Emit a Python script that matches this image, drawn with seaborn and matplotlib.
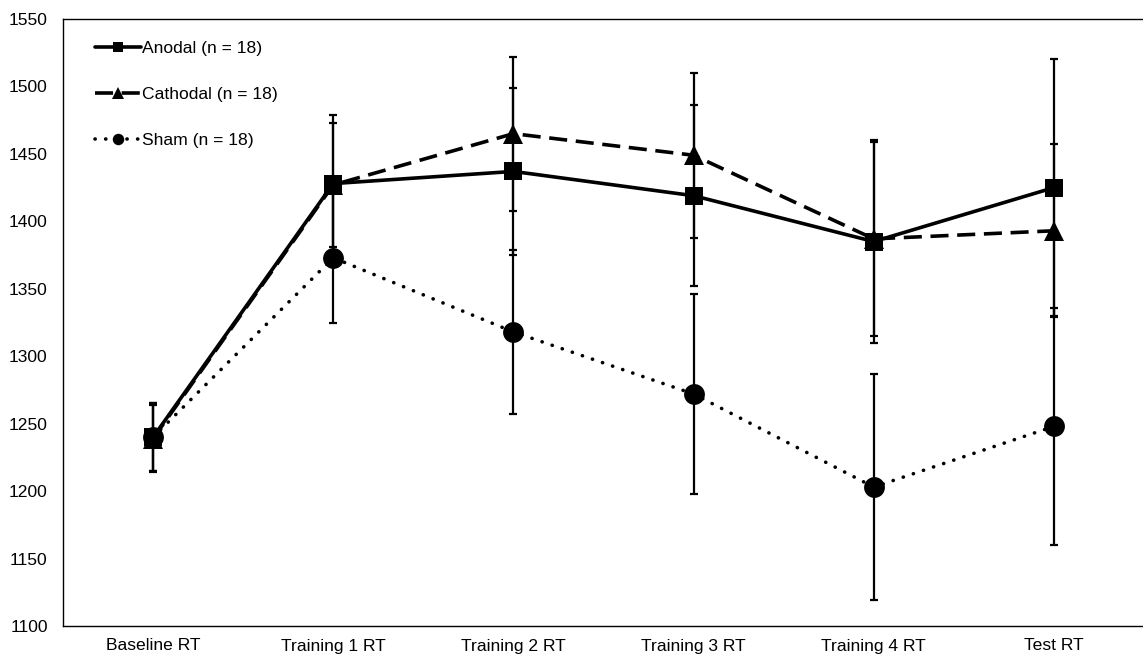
import numpy as np
import pandas as pd
import matplotlib
matplotlib.use("Agg")
import matplotlib.pyplot as plt
import seaborn as sns

sessions = ["Baseline RT", "Training 1 RT", "Training 2 RT", "Training 3 RT", "Training 4 RT", "Test RT"]
groups = ["Anodal (n = 18)", "Cathodal (n = 18)", "Sham (n = 18)"]
anodal = [1240, 1428, 1437, 1419, 1385, 1425]
anodal_se = [25, 51, 62, 67, 75, 95]
cathodal = [1239, 1427, 1465, 1449, 1387, 1393]
cathodal_se = [25, 46, 57, 61, 72, 64]
sham = [1240, 1373, 1318, 1272, 1203, 1248]
sham_se = [25, 48, 61, 74, 84, 88]
y_ticks = list(range(1100, 1551, 50))

sns.set_theme(style="white")
plt.rcParams["font.family"] = ["Liberation Sans", "DejaVu Sans"]
plt.rcParams["text.color"] = "black"

rows = []
for g, vals, ses in zip(groups, [anodal, cathodal, sham], [anodal_se, cathodal_se, sham_se]):
    for i, (s, v, e) in enumerate(zip(sessions, vals, ses)):
        rows.append({"pos": i, "Session": s, "RT": v, "SE": e, "Group": g})
df = pd.DataFrame(rows)

fig = plt.figure(figsize=(11.43, 6.61), dpi=100)
ax = fig.add_axes([63 / 1143, 1 - 626 / 661, (1144 - 63) / 1143, (626 - 19) / 661])

markers = {groups[0]: "s", groups[1]: "^", groups[2]: "o"}
dashes = {groups[0]: "", groups[1]: (5, 2.4), groups[2]: (0.05, 2.9)}
sns.lineplot(data=df, x="pos", y="RT", style="Group", markers=markers, dashes=dashes,
             color="black", linewidth=2.6, markeredgewidth=0, legend=False, ax=ax,
             errorbar=None)

sizes = {groups[0]: 13.5, groups[1]: 15, groups[2]: 15}
for line, g in zip(ax.lines[:3], groups):
    line.set_markersize(sizes[g])
    line.set_dash_capstyle("round" if g == groups[2] else "butt")
    line.set_label(g)

for g in groups:
    sub = df[df["Group"] == g]
    ax.errorbar(sub["pos"], sub["RT"], yerr=sub["SE"], fmt="none", ecolor="black",
                elinewidth=1.6, capsize=3.2, capthick=1.6, zorder=3)

handles = ax.lines[:3]
leg = ax.legend(handles, groups, loc="upper left", bbox_to_anchor=(0.02, 0.982),
                frameon=False, fontsize=12.6, markerscale=0.55, handlelength=2.6,
                handletextpad=0.1, labelspacing=1.78, borderaxespad=0.2)
for t in leg.get_texts():
    t.set_color("black")

ax.set_xlim(-0.5, len(sessions) - 0.5)
ax.set_ylim(y_ticks[0], y_ticks[-1])
ax.set_xticks(range(len(sessions)))
ax.set_xticklabels(sessions)
ax.set_yticks(y_ticks)
ax.set_xlabel("")
ax.set_ylabel("")
ax.tick_params(axis="both", length=0, labelsize=12.6, colors="black")
ax.tick_params(axis="y", pad=11)
ax.tick_params(axis="x", pad=9)
for side in ["left", "bottom", "top", "right"]:
    ax.spines[side].set_visible(True)
    ax.spines[side].set_color("black")
    ax.spines[side].set_linewidth(1.0)

fig.savefig("out.png", dpi=100)
